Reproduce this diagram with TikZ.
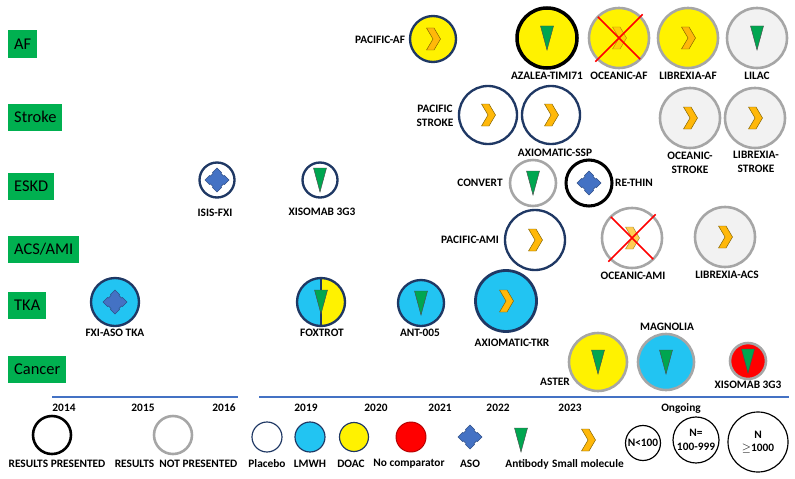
\documentclass[tikz,border=0pt]{standalone}
\usepackage{fontspec}
\setmainfont{Carlito}
\definecolor{catgreen}{HTML}{00B050}
\definecolor{navy}{HTML}{1F3864}
\definecolor{ringgray}{HTML}{A6A6A6}
\definecolor{pale}{HTML}{F2F2F2}
\definecolor{lmwh}{HTML}{22C4F2}
\definecolor{axisblue}{HTML}{4472C4}
\definecolor{chev}{HTML}{FFB80A}
\definecolor{chevd}{HTML}{7F6000}
\definecolor{abgreen}{HTML}{00A650}
\definecolor{asoblue}{HTML}{4472C4}
\begin{document}
\begin{tikzpicture}[x=0.03cm,y=-0.03cm,
    cat/.style={fill=catgreen, anchor=west, inner xsep=0.18cm, minimum height=0.81cm, font=\fontsize{14}{16}\selectfont},
    lbl/.style={font=\fontsize{9.7}{11.5}\selectfont\bfseries, align=center, inner sep=0},
    trial/.style={circle, inner sep=0, outer sep=0, minimum size=#1*0.06cm},
    pres/.style={draw=navy, line width=2pt},
    done/.style={draw=black, line width=2.6pt},
    nores/.style={draw=ringgray, line width=2.2pt},
    xout/.style={draw=red, line width=1.3pt, shorten <=-3pt, shorten >=-3pt},
    timeline/.style={draw=axisblue, line width=2.4pt},
    sm/.pic={\draw[fill=chev, draw=chevd, line width=0.4pt] (-6.5,-11) -- (1,-11) -- (7.5,0) -- (1,11) -- (-6.5,11) -- (0,0) -- cycle;},
    ab/.pic={\draw[fill=abgreen, draw=black!70, line width=0.4pt] (-6.5,-12) -- (6.5,-12) -- (0,12) -- cycle;},
    aso/.pic={\draw[fill=asoblue, draw=asoblue!70!black, line width=0.4pt] (12,0) -- (7.5,4.5) -- (6.5,4) -- (4,6.5) -- (4.5,7.5) -- (0,12) -- (-4.5,7.5) -- (-4,6.5) -- (-6.5,4) -- (-7.5,4.5) -- (-12,0) -- (-7.5,-4.5) -- (-6.5,-4) -- (-4,-6.5) -- (-4.5,-7.5) -- (0,-12) -- (4.5,-7.5) -- (4,-6.5) -- (6.5,-4) -- (7.5,-4.5) -- cycle;}]
\useasboundingbox (0,0) rectangle (795,478);
\node[cat] (af) at (8,44) {AF};
\node[cat] (stroke) at (8,117) {Stroke};
\node[cat] (eskd) at (8,186) {ESKD};
\node[cat] (acs) at (8,249) {ACS/AMI};
\node[cat] (tka) at (8,305) {TKA};
\node[cat] (cancer) at (8,369) {Cancer};

\node[trial=23, pres, fill=yellow] (pacaf) at (433,39) {};
\pic at (pacaf) {sm};
\node[lbl] (pacafl) at (380,40) {PACIFIC-AF};
\node[trial=30, done, line width=3pt, fill=yellow] (azalea) at (547,38) {};
\pic at (azalea) {ab};
\node[lbl] (azalean) at (547,76) {AZALEA-TIMI71};
\node[trial=30, nores, fill=yellow] (ocaf) at (619,38) {};
\pic[opacity=0.6] at (ocaf) {sm};
\draw[xout] (ocaf.north west) -- (ocaf.south east) (ocaf.north east) -- (ocaf.south west);
\node[lbl] (ocafl) at (619,76) {OCEANIC-AF};
\node[trial=30, nores, fill=yellow] (libaf) at (688,38) {};
\pic at (libaf) {sm};
\node[lbl] (libafl) at (688,76) {LIBREXIA-AF};
\node[trial=30, nores, fill=pale] (lilac) at (757,38) {};
\pic at (lilac) {ab};
\node[lbl] (lilacl) at (757,76) {LILAC};

\node[trial=29, pres, fill=white] (pacst) at (488,115) {};
\pic at (pacst) {sm};
\node[lbl] (pacstl) at (435,116) {PACIFIC\\STROKE};
\node[trial=29, pres, fill=white] (axssp) at (551,115) {};
\pic at (axssp) {sm};
\node[lbl] (axsspl) at (555,153) {AXIOMATIC-SSP};
\node[trial=30, nores, fill=pale] (ocst) at (690,118) {};
\pic at (ocst) {sm};
\node[lbl] (ocstl) at (690,163) {OCEANIC-\\STROKE};
\node[trial=30, nores, fill=pale] (libst) at (755,118) {};
\pic at (libst) {sm};
\node[lbl] (libstl) at (756,162) {LIBREXIA-\\STROKE};

\node[trial=17.5, pres, fill=white] (isis) at (217,180) {};
\pic at (isis) {aso};
\node[lbl] (isisl) at (215,213) {ISIS-FXI};
\node[trial=17.5, pres, fill=white] (xiseskd) at (320,180) {};
\pic at (xiseskd) {ab};
\node[lbl] (xiseskdl) at (322,212) {XISOMAB 3G3};
\node[trial=23, nores, fill=white] (convert) at (533,183) {};
\pic at (convert) {ab};
\node[lbl] (convertl) at (480,183) {CONVERT};
\node[trial=23, done, fill=white] (rethin) at (589,183) {};
\pic at (rethin) {aso};
\node[lbl] (rethinl) at (634,183) {RE-THIN};

\node[trial=30, pres, fill=white] (pacami) at (535,240) {};
\pic at (pacami) {sm};
\node[lbl] (pacamil) at (470,240) {PACIFIC-AMI};
\node[trial=30, nores, fill=white] (ocami) at (632,238) {};
\pic[opacity=0.7] at (ocami) {sm};
\draw[xout] (ocami.north west) -- (ocami.south east) (ocami.north east) -- (ocami.south west);
\node[lbl] (ocamil) at (633,276) {OCEANIC-AMI};
\node[trial=30, nores, fill=pale] (libacs) at (725,237) {};
\pic at (libacs) {sm};
\node[lbl] (libacsl) at (727,275) {LIBREXIA-ACS};

\node[trial=24, pres, fill=lmwh] (fxiaso) at (115,302) {};
\pic at (fxiaso) {aso};
\node[lbl] (fxiasol) at (115,333) {FXI-ASO TKA};
\node[trial=24, pres, fill=lmwh, path picture={\fill[yellow] (path picture bounding box.north) rectangle (path picture bounding box.south east); \draw[line width=1pt] (path picture bounding box.north) -- (path picture bounding box.south);}] (foxtrot) at (321,302) {};
\pic at (foxtrot) {ab};
\node[lbl] (foxtrotl) at (322,333) {FOXTROT};
\node[trial=23, pres, fill=lmwh] (ant) at (421,303) {};
\pic at (ant) {ab};
\node[lbl] (antl) at (420,333) {ANT-005};
\node[trial=30.5, pres, line width=2.4pt, fill=lmwh] (axtkr) at (506,301) {};
\pic at (axtkr) {sm};
\node[lbl] (axtkrl) at (512,343) {AXIOMATIC-TKR};

\node[trial=29, nores, fill=yellow] (aster) at (598,362) {};
\pic at (aster) {ab};
\node[lbl] (asterl) at (555,382) {ASTER};
\node[trial=28, nores, fill=lmwh] (magnolia) at (666,362) {};
\pic at (magnolia) {ab};
\node[lbl] (magnolial) at (667,327) {MAGNOLIA};
\node[trial=18, nores, fill=red] (xiscan) at (748,361) {};
\pic at (xiscan) {ab};
\node[lbl] (xiscanl) at (748,385) {XISOMAB 3G3};

\coordinate (t0) at (52,397);
\coordinate (t1) at (238,397);
\coordinate (t2) at (259,397);
\coordinate (t3) at (789,397);
\draw[timeline] (t0) -- (t1);
\draw[timeline] (t2) -- (t3);
\node[lbl] (y14) at (64,408) {2014};
\node[lbl] (y15) at (143,408) {2015};
\node[lbl] (y16) at (224,408) {2016};
\node[lbl] (y19) at (306,408) {2019};
\node[lbl] (y20) at (376,408) {2020};
\node[lbl] (y21) at (440,408) {2021};
\node[lbl] (y22) at (498,408) {2022};
\node[lbl] (y23) at (570,408) {2023};
\node[lbl] (yon) at (681,408) {Ongoing};

\node[trial=19, done, line width=2.2pt, fill=white] (lres) at (52,435) {};
\node[lbl] (lresl) at (57,464) {RESULTS PRESENTED};
\node[trial=19, nores, fill=white] (lnores) at (173,435) {};
\node[lbl] (lnoresl) at (176,464) {RESULTS\ \ NOT PRESENTED};
\node[trial=15, draw=navy, line width=1pt, fill=white] (lplac) at (267,437) {};
\node[lbl] (lplacl) at (267,464) {Placebo};
\node[trial=15, draw=navy, line width=1pt, fill=lmwh] (llmwh) at (310,437) {};
\node[lbl] (llmwhl) at (310,464) {LMWH};
\node[trial=14.5, draw=navy, line width=1pt, fill=yellow] (ldoac) at (354,437) {};
\node[lbl] (ldoacl) at (351,464) {DOAC};
\node[trial=15, draw=red!70!black, line width=0.8pt, fill=red] (lnoc) at (411,437) {};
\node[lbl] (lnocl) at (409,464) {No comparator};
\pic at (470,437) {aso};
\node[lbl] (lasol) at (470,464) {ASO};
\pic at (521,440) {ab};
\node[lbl] (labl) at (527,464) {Antibody};
\pic at (588,440) {sm};
\node[lbl] (lsml) at (588,464) {Small molecule};
\node[trial=17.5, draw=black, line width=1pt, lbl] (n1) at (643,443) {N<100};
\node[trial=23, draw=black, line width=1pt, lbl] (n2) at (696,440) {N=\\100-999};
\node[trial=30, draw=black, line width=1pt, lbl] (n3) at (758,442) {N\\$\geq$1000};
\end{tikzpicture}
\end{document}
